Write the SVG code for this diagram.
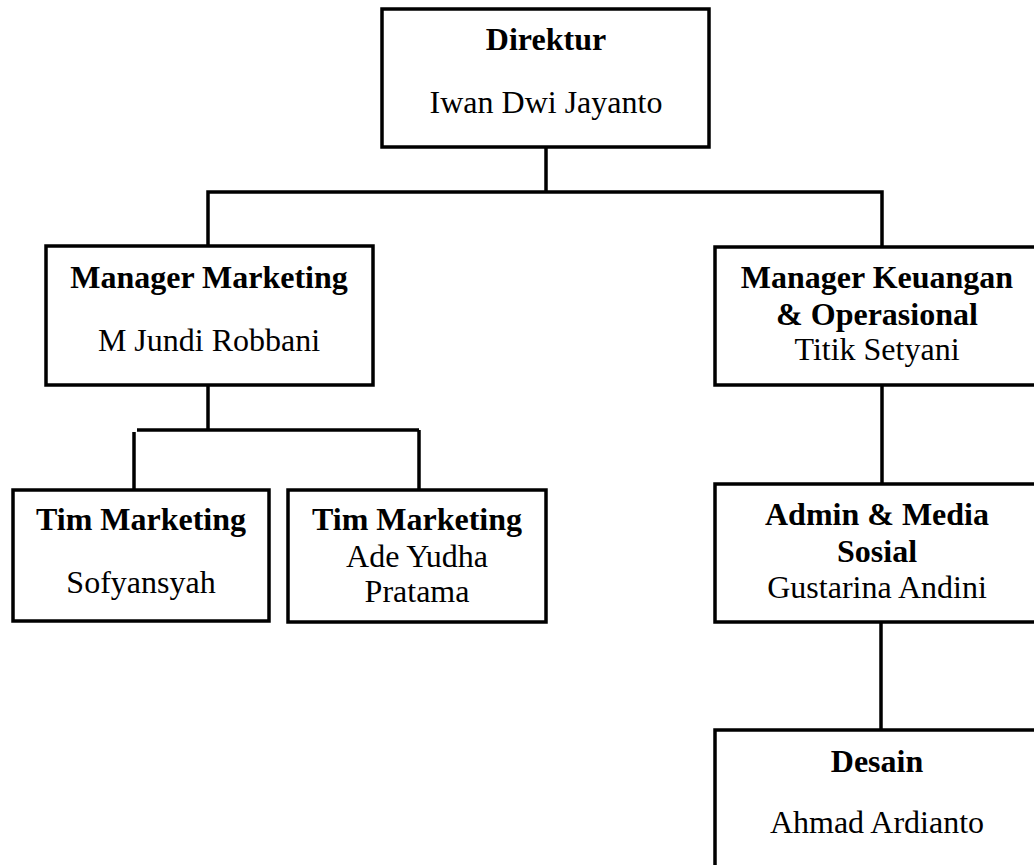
<svg xmlns="http://www.w3.org/2000/svg" width="1034" height="865" viewBox="0 0 1034 865">
<style>
.box{fill:#fff;stroke:#000;stroke-width:3.5}
.ln{stroke:#000;stroke-width:3.5;fill:none}
text{font-family:"Liberation Serif","Times New Roman",serif;font-size:32px;fill:#000;text-anchor:middle}
.b{font-weight:bold}
</style>
<rect width="1034" height="865" fill="#fff"/>
<g id="connectors">
<line class="ln" x1="546" y1="147" x2="546" y2="192"/>
<polyline class="ln" points="208,246 208,192 882,192 882,246"/>
<line class="ln" x1="208" y1="386" x2="208" y2="430"/>
<line class="ln" x1="137" y1="430" x2="419" y2="430"/>
<line class="ln" x1="134" y1="432" x2="134" y2="490"/>
<line class="ln" x1="419" y1="430" x2="419" y2="490"/>
<line class="ln" x1="882" y1="386" x2="882" y2="484"/>
<line class="ln" x1="881" y1="622" x2="881" y2="730"/>
</g>
<g id="direktur">
<rect class="box" x="382" y="9" width="327" height="138"/>
<text class="b" x="546" y="50">Direktur</text>
<text x="546" y="113">Iwan Dwi Jayanto</text>
</g>
<g id="manager-marketing">
<rect class="box" x="46" y="246" width="327" height="139"/>
<text class="b" x="209" y="288">Manager Marketing</text>
<text x="209" y="351">M Jundi Robbani</text>
</g>
<g id="manager-keuangan">
<rect class="box" x="715" y="247" width="330" height="138"/>
<text class="b" x="877" y="288">Manager Keuangan</text>
<text class="b" x="877" y="325">&amp; Operasional</text>
<text x="877" y="360">Titik Setyani</text>
</g>
<g id="tim-marketing-1">
<rect class="box" x="13" y="490" width="256" height="131"/>
<text class="b" x="141" y="530">Tim Marketing</text>
<text x="141" y="593">Sofyansyah</text>
</g>
<g id="tim-marketing-2">
<rect class="box" x="288" y="490" width="258" height="132"/>
<text class="b" x="417" y="530">Tim Marketing</text>
<text x="417" y="567">Ade Yudha</text>
<text x="417" y="602">Pratama</text>
</g>
<g id="admin-media">
<rect class="box" x="715" y="484" width="330" height="138"/>
<text class="b" x="877" y="525">Admin &amp; Media</text>
<text class="b" x="877" y="562">Sosial</text>
<text x="877" y="598">Gustarina Andini</text>
</g>
<g id="desain">
<rect class="box" x="715" y="730" width="330" height="160"/>
<text class="b" x="877" y="772">Desain</text>
<text x="877" y="833">Ahmad Ardianto</text>
</g>
</svg>
